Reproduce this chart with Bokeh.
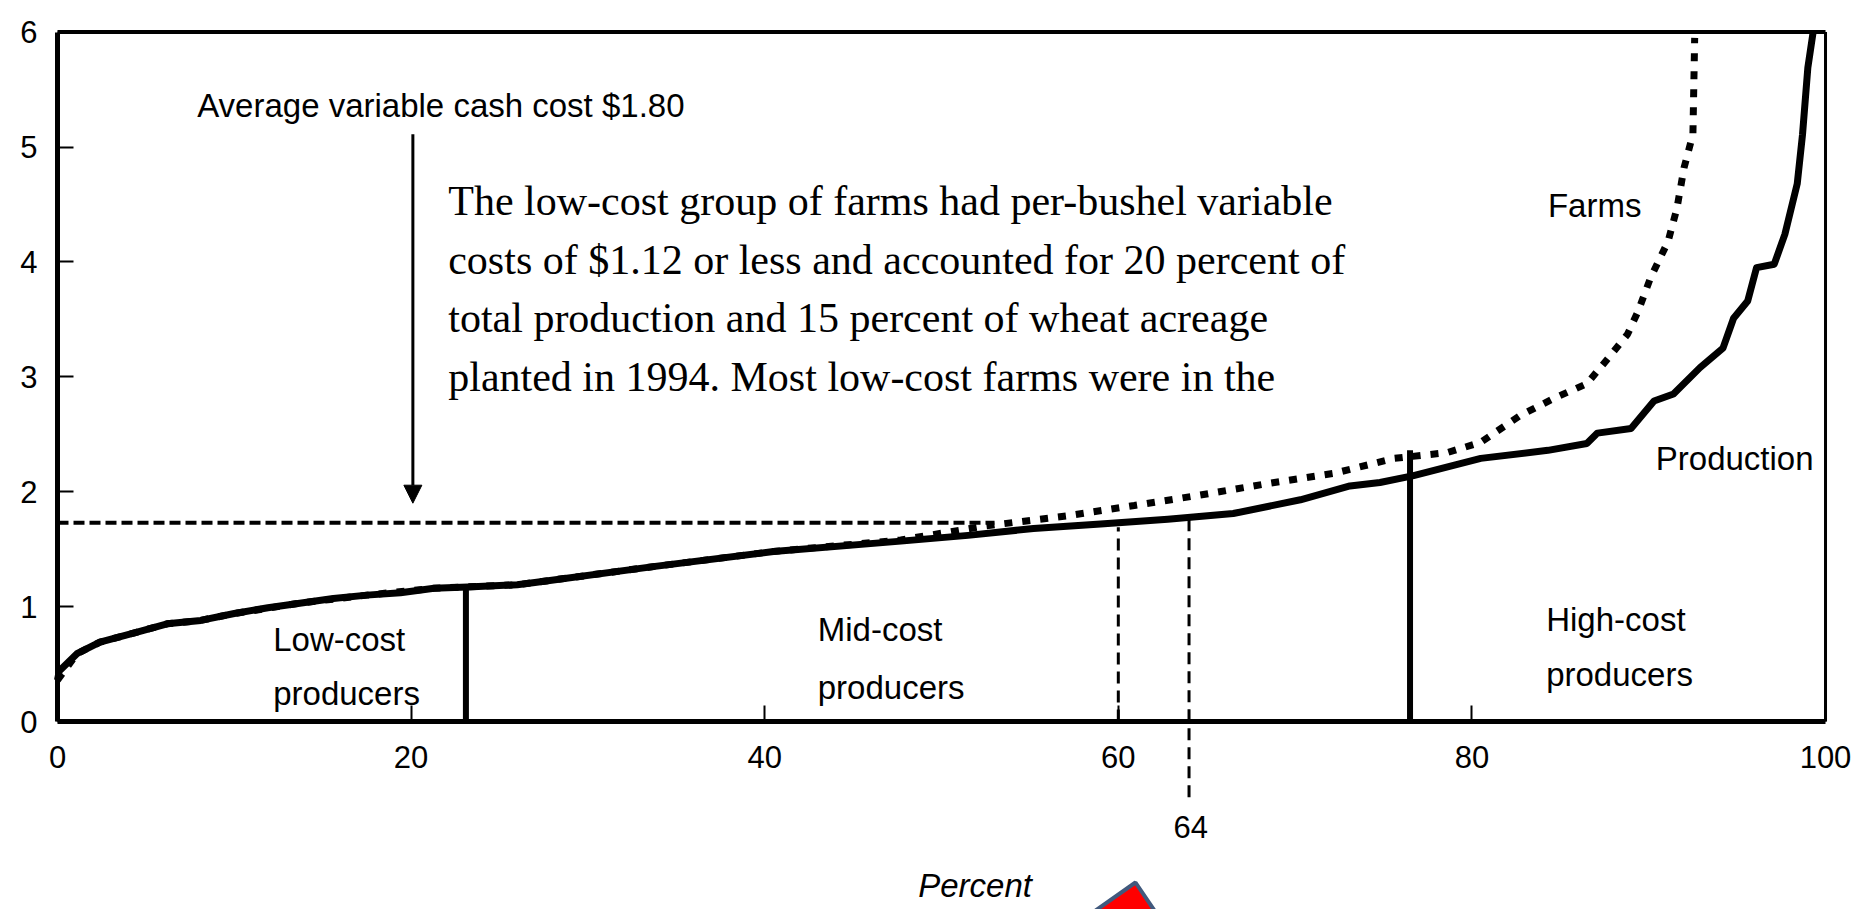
from bokeh.plotting import figure
from bokeh.models import (ColumnDataSource, Label, Arrow, NormalHead, PolyAnnotation,
                          FixedTicker, Range1d)
from bokeh.core.properties import value
from bokeh.embed import file_html
from bokeh.resources import INLINE

# ---------------- data ----------------
# Cumulative percent of production vs per-bushel variable cash cost ($)
prod_x = [0, 0.1, 1.1, 2.4, 4.3, 6.2, 8.1, 10.0, 11.9, 13.7, 15.6, 17.5, 19.4, 21.3, 23.2,
          26.0, 27.0, 33.8, 40.5, 47.7, 51.5, 55.2, 59.0, 62.8, 66.5, 70.3, 73.1, 74.8,
          76.7, 80.5, 84.3, 86.5, 87.1, 89.0, 90.3, 91.4, 92.9, 94.2, 94.8, 95.6, 96.1,
          97.1, 97.7, 98.4, 98.7, 99.0, 99.3]
prod_y = [0.36, 0.44, 0.59, 0.69, 0.77, 0.85, 0.88, 0.94, 0.99, 1.03, 1.07, 1.10, 1.12,
          1.16, 1.17, 1.19, 1.21, 1.35, 1.48, 1.57, 1.62, 1.68, 1.72, 1.76, 1.81, 1.93,
          2.05, 2.08, 2.14, 2.29, 2.36, 2.42, 2.51, 2.55, 2.79, 2.85, 3.08, 3.25, 3.51,
          3.66, 3.95, 3.98, 4.24, 4.68, 5.11, 5.69, 6.0]

# Cumulative percent of farms vs cost ($)
farm_x = [0, 1.1, 2.4, 4.3, 6.2, 8.1, 10.0, 13.7, 17.5, 21.3, 26.0, 33.8, 40.5, 47.7,
          52.4, 57.1, 60.9, 64.6, 68.4, 72.2, 75.6, 78.6, 80.5, 82.7, 84.6, 86.5, 87.7,
          88.8, 89.4, 90.1, 91.1, 91.6, 92.0, 92.5, 92.6]
farm_y = [0.36, 0.59, 0.69, 0.77, 0.85, 0.88, 0.94, 1.03, 1.10, 1.16, 1.19, 1.35, 1.48,
          1.58, 1.70, 1.79, 1.88, 1.97, 2.07, 2.16, 2.29, 2.34, 2.43, 2.66, 2.81, 2.94,
          3.16, 3.37, 3.57, 3.86, 4.18, 4.47, 4.82, 5.11, 5.95]

x_ticks = [0, 20, 40, 60, 80, 100]
y_ticks = [0, 1, 2, 3, 4, 5, 6]

avg_cost = 1.73            # dashed reference level
avg_cost_end = 53          # where the dashed level meets the curve
divider_x = [23.1, 76.5]   # low/mid and mid/high cost boundaries
divider_top = [1.17, 2.36]
dash_x = [60, 64]          # dashed markers
dash_top = [1.69, 1.77]
dash_bottom = [0, -0.66]

group_labels = ["Low-cost", "producers", "Mid-cost", "producers", "High-cost", "producers",
                "Farms", "Production"]
group_x = [12.2, 12.2, 43.0, 43.0, 84.2, 84.2, 84.3, 90.4]
group_y = [0.715, 0.245, 0.80, 0.30, 0.89, 0.41, 4.49, 2.29]

note_lines = ["The low-cost group of farms had per-bushel variable",
              "costs of $1.12 or less and accounted for 20 percent of",
              "total production and 15 percent of wheat acreage",
              "planted in 1994.  Most low-cost farms were in the"]
note_x = [22.1, 22.1, 22.1, 22.1]
note_y = [4.53, 4.02, 3.51, 3.00]

SANS = "Liberation Sans"
SERIF = "Liberation Serif"

# ---------------- figure ----------------
# frame covers the whole canvas; axes are pinned at x=0 / y=0
p = figure(frame_width=1864, frame_height=909,
           x_range=Range1d(-3.224, 102.205), y_range=Range1d(-1.636, 6.275),
           output_backend="svg", toolbar_location=None,
           min_border_left=0, min_border_right=0, min_border_top=0, min_border_bottom=0)
p.grid.visible = False
p.background_fill_color = "white"
p.border_fill_color = "white"
p.outline_line_color = None

for ax in (p.xaxis[0], p.yaxis[0]):
    ax.axis_line_width = 5
    ax.axis_line_color = "black"
    ax.major_tick_in = 16
    ax.major_tick_out = 0
    ax.major_tick_line_width = 2
    ax.minor_tick_line_color = None
    ax.major_label_text_font = SANS
    ax.major_label_text_font_size = "31px"
    ax.major_label_text_color = "black"
p.xaxis.ticker = FixedTicker(ticks=x_ticks)
p.yaxis.ticker = FixedTicker(ticks=y_ticks)
p.xaxis.fixed_location = 0
p.yaxis.fixed_location = 0
p.xaxis.bounds = (0, 100)
p.yaxis.bounds = (0, 6)
p.xaxis.major_label_standoff = 24
p.yaxis.major_label_standoff = 20

# frame borders (top and right)
p.line([0, 100], [6, 6], line_width=4, line_color="black")
p.line([100, 100], [0, 6], line_width=3, line_color="black")

# curves
p.line(prod_x, prod_y, line_width=7, line_color="black", line_join="round")
p.line(farm_x, farm_y, line_width=7, line_color="black", line_dash="8 10")

# reference lines
p.line([0, avg_cost_end], [avg_cost, avg_cost], line_width=4, line_color="black", line_dash="11 5")
p.segment(x0=divider_x, y0=[0, 0], x1=divider_x, y1=divider_top, line_width=6, line_color="black")
p.segment(x0=dash_x, y0=dash_bottom, x1=dash_x, y1=dash_top, line_width=3,
          line_color="black", line_dash="12 7")

# arrow from the average cost note
p.add_layout(Arrow(end=NormalHead(size=18, fill_color="black", line_color="black"),
                   x_start=20.1, y_start=5.11, x_end=20.1, y_end=1.9,
                   line_width=3, line_color="black"))

# texts
src = ColumnDataSource(dict(x=group_x, y=group_y, text=group_labels))
p.text(x="x", y="y", text="text", source=src, text_font=value(SANS), text_font_size="33px",
       text_align="left", text_baseline="alphabetic", text_color="black")
src2 = ColumnDataSource(dict(x=note_x, y=note_y, text=note_lines))
p.text(x="x", y="y", text="text", source=src2, text_font=value(SERIF), text_font_size="42px",
       text_align="left", text_baseline="alphabetic", text_color="black")
p.add_layout(Label(x=7.9, y=5.36, text="Average variable cash cost $1.80", text_font=SANS,
                   text_font_size="33px", text_align="left", text_baseline="alphabetic",
                   text_color="black"))
p.add_layout(Label(x=64.1, y=-0.92, text="64", text_font=SANS, text_font_size="31px",
                   text_align="center", text_baseline="middle", text_color="black"))
p.add_layout(Label(x=51.9, y=-1.43, text="Percent", text_font=SANS, text_font_size="33px",
                   text_font_style="italic", text_align="center", text_baseline="middle",
                   text_color="black"))

# red triangle marker overlaid at the bottom
p.add_layout(PolyAnnotation(xs=[1135, 1078, 1162], ys=[882, 922, 922],
                            xs_units="canvas", ys_units="canvas",
                            fill_color="#ff0000", fill_alpha=1.0,
                            line_color="#41597d", line_width=4, line_alpha=1.0))

open("out.html", "w").write(file_html(p, INLINE))
